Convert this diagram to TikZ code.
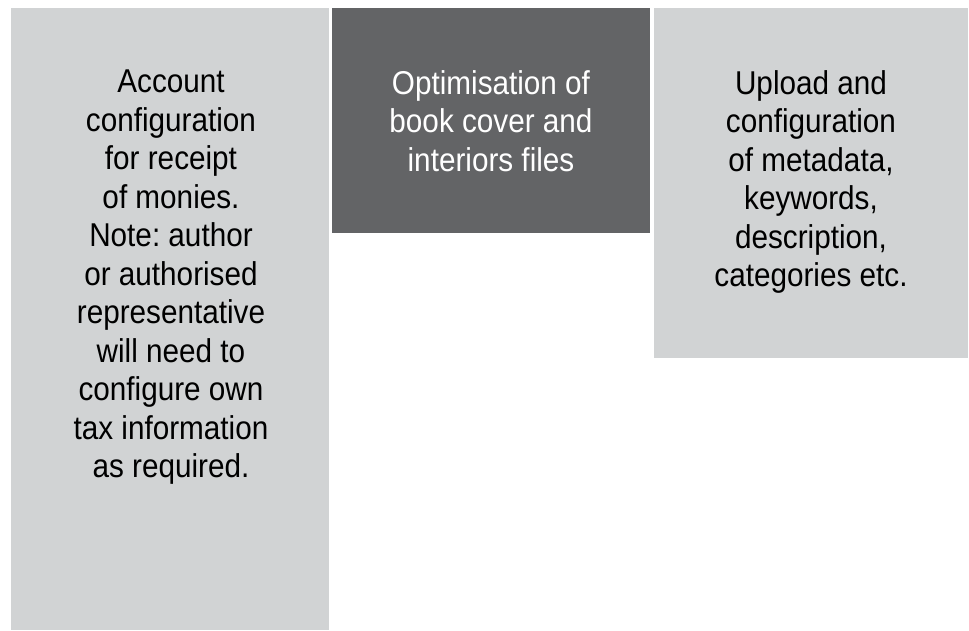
\documentclass[tikz,border=0pt]{standalone}
\usepackage{fontspec}
\setmainfont[FakeStretch=0.9]{Liberation Sans}
\definecolor{panellight}{HTML}{D1D3D4}
\definecolor{paneldark}{HTML}{636466}
\frenchspacing
\begin{document}
\begin{tikzpicture}[x=1pt,y=1pt,
  panel/.style={rectangle, draw=none, inner sep=0pt, anchor=north west},
  lightpanel/.style={panel, fill=panellight},
  darkpanel/.style={panel, fill=paneldark},
  paneltext/.style={inner sep=0pt, anchor=north, align=center,
    font=\fontsize{33}{38.5}\selectfont},
]
\useasboundingbox (0,0) rectangle (969,630);
\fill[white] (0,0) rectangle (969,630);

% three panels
\node[lightpanel, minimum width=318pt, minimum height=622pt] (left) at (11,622) {};
\node[darkpanel,  minimum width=318pt, minimum height=225pt] (mid)  at (332,622) {};
\node[lightpanel, minimum width=314pt, minimum height=350pt] (right) at (654,622) {};

% panel texts
\node[paneltext, text=black] (lefttext) at (171,560)
  {Account\\configuration\\for receipt\\of monies.\\Note: author\\or authorised\\representative\\will need to\\configure own\\tax information\\as required.};
\node[paneltext, text=white] (midtext) at (491,560)
  {Optimisation of\\book cover and\\interiors files};
\node[paneltext, text=black] (righttext) at (811,560)
  {Upload and\\configuration\\of metadata,\\keywords,\\description,\\categories etc.};
\end{tikzpicture}
\end{document}
